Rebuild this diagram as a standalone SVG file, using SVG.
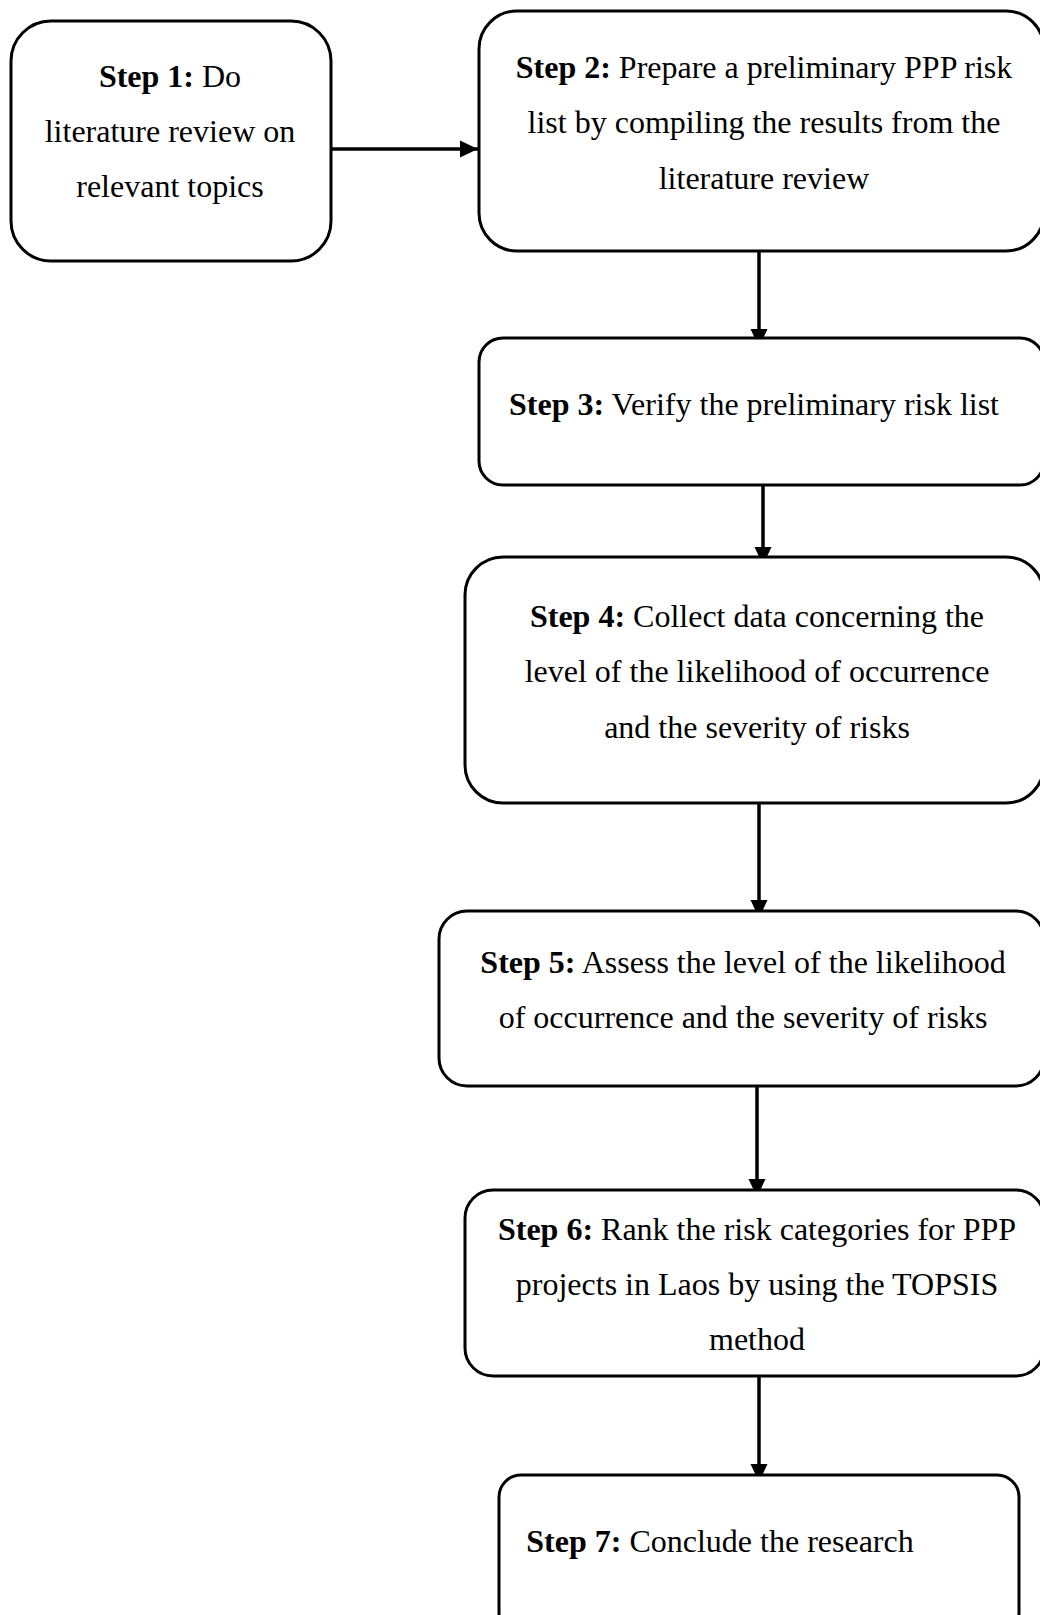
<svg xmlns="http://www.w3.org/2000/svg" width="1040" height="1615" viewBox="0 0 1040 1615">
  <style>
    .box { fill: #ffffff; stroke: #000000; stroke-width: 3; }
    .wire { fill: none; stroke: #000000; stroke-width: 3.5; }
    .lbl { font-family: "Liberation Serif", "Times New Roman", serif; font-size: 32px; fill: #000000; text-anchor: middle; }
    .b { font-weight: bold; }
  </style>
  <defs>
    <marker id="head" markerUnits="userSpaceOnUse" markerWidth="20" markerHeight="20" viewBox="0 0 20 20" refX="18" refY="10" orient="auto">
      <path d="M0,1.5 L18,10 L0,18.5 Z" fill="#000000"/>
    </marker>
  </defs>
  <rect width="1040" height="1615" fill="#ffffff"/>

  <!-- connectors -->
  <g id="connectors">
    <line class="wire" x1="331" y1="149" x2="478" y2="149" marker-end="url(#head)"/>
    <line class="wire" x1="759" y1="251" x2="759" y2="347" marker-end="url(#head)"/>
    <line class="wire" x1="763" y1="485" x2="763" y2="565" marker-end="url(#head)"/>
    <line class="wire" x1="759" y1="803" x2="759" y2="918" marker-end="url(#head)"/>
    <line class="wire" x1="757" y1="1086" x2="757" y2="1197" marker-end="url(#head)"/>
    <line class="wire" x1="759" y1="1376" x2="759" y2="1482" marker-end="url(#head)"/>
  </g>

  <g id="step1">
    <rect class="box" x="11" y="21" width="320" height="240" rx="40" ry="40"/>
    <text class="lbl" x="170" y="87"><tspan class="b">Step 1:</tspan> Do</text>
    <text class="lbl" x="170" y="142">literature review on</text>
    <text class="lbl" x="170" y="197">relevant topics</text>
  </g>

  <g id="step2">
    <rect class="box" x="479" y="11" width="565" height="240" rx="38" ry="38"/>
    <text class="lbl" x="764" y="78"><tspan class="b">Step 2:</tspan> Prepare a preliminary PPP risk</text>
    <text class="lbl" x="764" y="133">list by compiling the results from the</text>
    <text class="lbl" x="764" y="189">literature review</text>
  </g>

  <g id="step3">
    <rect class="box" x="479" y="338" width="565" height="147" rx="24" ry="24"/>
    <text class="lbl" x="754" y="415"><tspan class="b">Step 3:</tspan> Verify the preliminary risk list</text>
  </g>

  <g id="step4">
    <rect class="box" x="465" y="557" width="579" height="246" rx="38" ry="38"/>
    <text class="lbl" x="757" y="627"><tspan class="b">Step 4:</tspan> Collect data concerning the</text>
    <text class="lbl" x="757" y="682">level of the likelihood of occurrence</text>
    <text class="lbl" x="757" y="738">and the severity of risks</text>
  </g>

  <g id="step5">
    <rect class="box" x="439" y="911" width="605" height="175" rx="28" ry="28"/>
    <text class="lbl" x="743" y="973"><tspan class="b">Step 5:</tspan> Assess the level of the likelihood</text>
    <text class="lbl" x="743" y="1028">of occurrence and the severity of risks</text>
  </g>

  <g id="step6">
    <rect class="box" x="465" y="1190" width="579" height="186" rx="28" ry="28"/>
    <text class="lbl" x="757" y="1240"><tspan class="b">Step 6:</tspan> Rank the risk categories for PPP</text>
    <text class="lbl" x="757" y="1295">projects in Laos by using the TOPSIS</text>
    <text class="lbl" x="757" y="1350">method</text>
  </g>

  <g id="step7">
    <rect class="box" x="499" y="1475" width="520" height="160" rx="22" ry="22"/>
    <text class="lbl" x="720" y="1552"><tspan class="b">Step 7:</tspan> Conclude the research</text>
  </g>
</svg>
